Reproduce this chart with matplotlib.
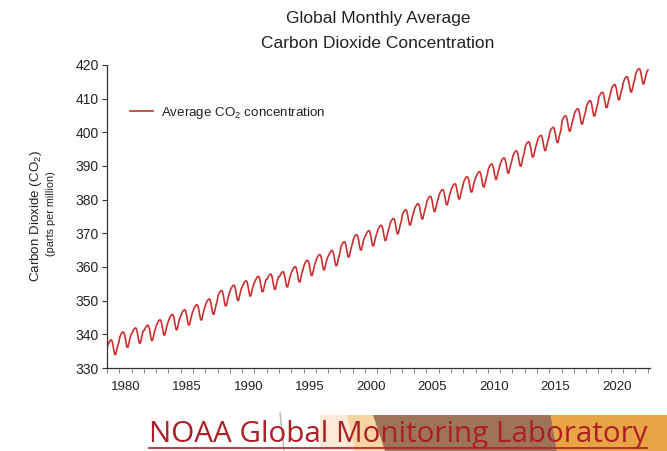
import numpy as np
import matplotlib
matplotlib.use('Agg')
import matplotlib.pyplot as plt
from matplotlib.patches import Polygon
from matplotlib.lines import Line2D

# ---- data: global monthly mean CO2 (ppm), Jan 1979 onwards, one row per year ----
start_year = 1979
co2_ppm = [
    336.6, 337.3, 337.9, 338.3, 338.3, 337.4, 335.6, 334.0, 334.0, 335.4, 336.6, 337.5,  # 1979
    339.2, 339.9, 340.4, 340.7, 340.6, 339.5, 337.7, 336.2, 336.2, 337.6, 338.9, 339.9,  # 1980
    340.4, 341.1, 341.6, 341.9, 341.8, 340.7, 338.9, 337.4, 337.4, 338.8, 340.1, 341.1,  # 1981
    341.2, 341.9, 342.4, 342.7, 342.6, 341.5, 339.7, 338.2, 338.2, 339.6, 340.9, 341.9,  # 1982
    342.8, 343.5, 344.0, 344.3, 344.2, 343.1, 341.3, 339.8, 339.8, 341.2, 342.5, 343.5,  # 1983
    344.4, 345.1, 345.6, 345.9, 345.8, 344.7, 342.9, 341.4, 341.4, 342.8, 344.1, 345.1,  # 1984
    345.8, 346.5, 347.0, 347.3, 347.2, 346.1, 344.3, 342.8, 342.8, 344.2, 345.5, 346.5,  # 1985
    347.3, 348.0, 348.5, 348.8, 348.7, 347.6, 345.8, 344.3, 344.3, 345.7, 347.0, 348.0,  # 1986
    349.0, 349.7, 350.2, 350.5, 350.4, 349.3, 347.5, 346.0, 346.0, 347.4, 348.7, 349.7,  # 1987
    351.5, 352.2, 352.7, 353.0, 352.9, 351.8, 350.0, 348.5, 348.5, 349.9, 351.2, 352.2,  # 1988
    353.1, 353.8, 354.3, 354.6, 354.5, 353.4, 351.6, 350.1, 350.1, 351.5, 352.8, 353.8,  # 1989
    354.4, 355.1, 355.6, 355.9, 355.8, 354.7, 352.9, 351.4, 351.4, 352.8, 354.1, 355.1,  # 1990
    355.7, 356.4, 356.9, 357.2, 357.1, 356.0, 354.2, 352.7, 352.7, 354.1, 355.4, 356.4,  # 1991
    356.4, 357.1, 357.6, 357.9, 357.8, 356.7, 354.9, 353.4, 353.4, 354.8, 356.1, 357.1,  # 1992
    357.1, 357.8, 358.3, 358.6, 358.5, 357.4, 355.6, 354.1, 354.1, 355.5, 356.8, 357.8,  # 1993
    358.6, 359.3, 359.8, 360.1, 360.0, 358.9, 357.1, 355.6, 355.6, 357.0, 358.3, 359.3,  # 1994
    360.5, 361.2, 361.7, 362.0, 361.9, 360.8, 359.0, 357.5, 357.5, 358.9, 360.2, 361.2,  # 1995
    362.2, 362.9, 363.4, 363.7, 363.6, 362.5, 360.7, 359.2, 359.2, 360.6, 361.9, 362.9,  # 1996
    363.4, 364.1, 364.6, 364.9, 364.8, 363.7, 361.9, 360.4, 360.4, 361.8, 363.1, 364.1,  # 1997
    366.0, 366.7, 367.2, 367.5, 367.4, 366.3, 364.5, 363.0, 363.0, 364.4, 365.7, 366.7,  # 1998
    368.1, 368.8, 369.3, 369.6, 369.5, 368.4, 366.6, 365.1, 365.1, 366.5, 367.8, 368.8,  # 1999
    369.3, 370.0, 370.5, 370.8, 370.7, 369.6, 367.8, 366.3, 366.3, 367.7, 369.0, 370.0,  # 2000
    370.9, 371.6, 372.1, 372.4, 372.3, 371.2, 369.4, 367.9, 367.9, 369.3, 370.6, 371.6,  # 2001
    372.9, 373.6, 374.1, 374.4, 374.3, 373.2, 371.4, 369.9, 369.9, 371.3, 372.6, 373.6,  # 2002
    375.5, 376.2, 376.7, 377.0, 376.9, 375.8, 374.0, 372.5, 372.5, 373.9, 375.2, 376.2,  # 2003
    377.3, 378.0, 378.5, 378.8, 378.7, 377.6, 375.8, 374.3, 374.3, 375.7, 377.0, 378.0,  # 2004
    379.5, 380.2, 380.7, 381.0, 380.9, 379.8, 378.0, 376.5, 376.5, 377.9, 379.2, 380.2,  # 2005
    381.5, 382.2, 382.7, 383.0, 382.9, 381.8, 380.0, 378.5, 378.5, 379.9, 381.2, 382.2,  # 2006
    383.2, 383.9, 384.4, 384.7, 384.6, 383.5, 381.7, 380.2, 380.2, 381.6, 382.9, 383.9,  # 2007
    385.3, 386.0, 386.5, 386.8, 386.7, 385.6, 383.8, 382.3, 382.3, 383.7, 385.0, 386.0,  # 2008
    386.8, 387.5, 388.0, 388.3, 388.2, 387.1, 385.3, 383.8, 383.8, 385.2, 386.5, 387.5,  # 2009
    389.1, 389.8, 390.3, 390.6, 390.5, 389.4, 387.6, 386.1, 386.1, 387.5, 388.8, 389.8,  # 2010
    390.9, 391.6, 392.1, 392.4, 392.3, 391.2, 389.4, 387.9, 387.9, 389.3, 390.6, 391.6,  # 2011
    393.0, 393.7, 394.2, 394.5, 394.4, 393.3, 391.5, 390.0, 390.0, 391.4, 392.7, 393.7,  # 2012
    395.7, 396.4, 396.9, 397.2, 397.1, 396.0, 394.2, 392.7, 392.7, 394.1, 395.4, 396.4,  # 2013
    397.6, 398.3, 398.8, 399.1, 399.0, 397.9, 396.1, 394.6, 394.6, 396.0, 397.3, 398.3,  # 2014
    400.0, 400.7, 401.2, 401.5, 401.4, 400.3, 398.5, 397.0, 397.0, 398.4, 399.7, 400.7,  # 2015
    403.4, 404.1, 404.6, 404.9, 404.8, 403.7, 401.9, 400.4, 400.4, 401.8, 403.1, 404.1,  # 2016
    405.5, 406.2, 406.7, 407.0, 406.9, 405.8, 404.0, 402.5, 402.5, 403.9, 405.2, 406.2,  # 2017
    407.9, 408.6, 409.1, 409.4, 409.3, 408.2, 406.4, 404.9, 404.9, 406.3, 407.6, 408.6,  # 2018
    410.4, 411.1, 411.6, 411.9, 411.8, 410.7, 408.9, 407.4, 407.4, 408.8, 410.1, 411.1,  # 2019
    412.7, 413.4, 413.9, 414.2, 414.1, 413.0, 411.2, 409.7, 409.7, 411.1, 412.4, 413.4,  # 2020
    415.0, 415.7, 416.2, 416.5, 416.4, 415.3, 413.5, 412.0, 412.0, 413.4, 414.7, 415.7,  # 2021
    417.4, 418.1, 418.6, 418.9, 418.8, 417.7, 415.9, 414.4, 414.4, 415.8, 417.1, 418.1,  # 2022
    418.5,                                                                                 # 2023
]
year_labels = [1980, 1985, 1990, 1995, 2000, 2005, 2010, 2015, 2020]
y_ticks = [330, 340, 350, 360, 370, 380, 390, 400, 410, 420]

# ---- look ----
C_LINE = '#cd2f2e'
C_TEXT = '#222222'
C_AXIS = '#333333'
C_NOAA = '#ad1f26'
SANS = ['Liberation Sans', 'DejaVu Sans']

plt.rcParams['font.family'] = SANS
plt.rcParams['mathtext.fontset'] = 'custom'
plt.rcParams['mathtext.rm'] = 'Liberation Sans'
plt.rcParams['mathtext.default'] = 'regular'

W, H = 667, 451
fig = plt.figure(figsize=(W / 100, H / 100), dpi=100)
fig.patch.set_facecolor('white')


def fx(x):
    return x / W


def fy(y):
    return 1 - y / H


ax = fig.add_axes([fx(107), fy(368), 543 / W, 303 / H])

dates = start_year + (np.arange(len(co2_ppm)) + 0.5) / 12.0
ax.plot(dates, co2_ppm, color=C_LINE, lw=1.2,
        label='Average CO$_2$ concentration')

ax.set_xlim(1979.0, 2023.2)
ax.set_ylim(330, 420)

for s in ('top', 'right'):
    ax.spines[s].set_visible(False)
for s in ('left', 'bottom'):
    ax.spines[s].set_color(C_AXIS)
    ax.spines[s].set_linewidth(0.9)

ax.set_yticks(y_ticks)
ax.tick_params(axis='y', direction='out', length=3.5, width=0.8, pad=2.5,
               colors=C_AXIS, labelcolor=C_TEXT, labelsize=10)

# ticks on year boundaries, labels centred on the year
ax.set_xticks(np.arange(1979, 2024), minor=True)
ax.set_xticks([y + 0.5 for y in year_labels])
ax.set_xticklabels([str(y) for y in year_labels])
ax.tick_params(axis='x', which='minor', direction='out', length=3.5,
               width=0.6, colors='#777777')
ax.tick_params(axis='x', which='major', length=0, pad=9,
               labelcolor=C_TEXT, labelsize=9.5)

leg = ax.legend(loc='center left', bbox_to_anchor=((130 - 107) / 543, (368 - 113) / 303),
                frameon=False, borderpad=0, borderaxespad=0, handlelength=1.75,
                handletextpad=0.6, prop={'size': 9.6})
for t in leg.get_texts():
    t.set_color(C_TEXT)

# titles and axis label
fig.text(fx(378), fy(18), 'Global Monthly Average', ha='center', va='center',
         fontsize=12.5, color=C_TEXT)
fig.text(fx(378), fy(44), 'Carbon Dioxide Concentration', ha='center', va='center',
         fontsize=12.5, color=C_TEXT)
fig.text(fx(36), fy(216), 'Carbon Dioxide (CO$_2$)', rotation=90, ha='center',
         va='center', fontsize=9.6, color=C_TEXT)
fig.text(fx(51), fy(214), '(parts per million)', rotation=90, ha='center',
         va='center', fontsize=7.8, color=C_TEXT)

# ---- footer banner ----
bands = [
    ([(320, 415), (347, 415), (355, 451), (320, 451)], '#fce9d6'),
    ([(347, 415), (373, 415), (385, 451), (355, 451)], '#f8d4a2'),
    ([(373, 415), (551, 415), (557, 451), (385, 451)], '#9e7357'),
    ([(551, 415), (667, 415), (667, 451), (557, 451)], '#e8a445'),
]
for pts, col in bands:
    fig.add_artist(Polygon([(fx(x), fy(y)) for x, y in pts], closed=True,
                           transform=fig.transFigure, facecolor=col,
                           edgecolor='none', zorder=0))
fig.add_artist(Line2D([fx(280), fx(284)], [fy(413), fy(451)],
                      transform=fig.transFigure, color='#b5b5b5', lw=1, zorder=1))

noaa = fig.text(fx(149), fy(442), 'NOAA Global Monitoring Laboratory', ha='left',
                va='baseline', fontsize=21, family=['Open Sans', 'DejaVu Sans'],
                color=C_NOAA, zorder=2)
renderer = fig.canvas.get_renderer()
w = noaa.get_window_extent(renderer).width
noaa.set_fontsize(21 * 499 / w)
fig.add_artist(Line2D([fx(149), fx(647)], [fy(448), fy(448)],
                      transform=fig.transFigure, color=C_NOAA, lw=1.2, zorder=2))

fig.savefig('out.png', dpi=100, facecolor='white')
